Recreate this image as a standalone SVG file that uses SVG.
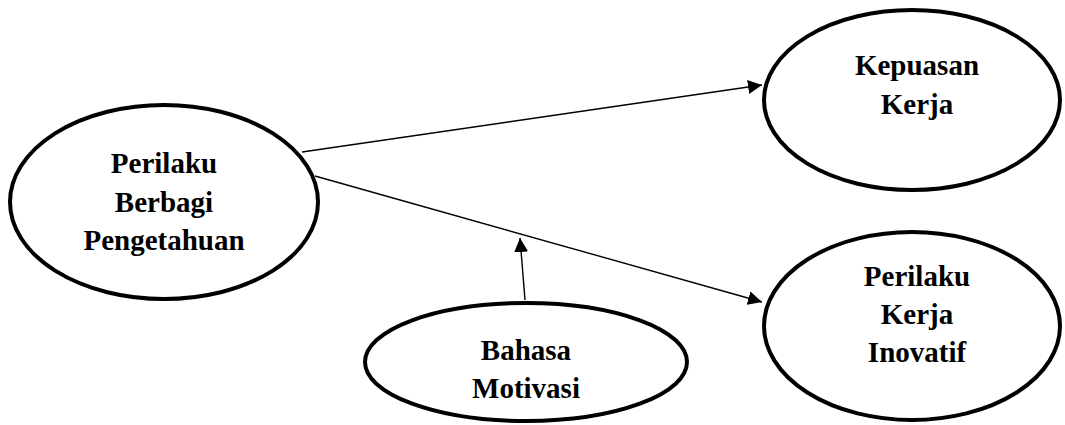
<svg xmlns="http://www.w3.org/2000/svg" width="1065" height="425" viewBox="0 0 1065 425">
<style>
.node{fill:#fff;stroke:#000;stroke-width:4}
.lbl{font-family:"Liberation Serif","Times New Roman",serif;font-weight:bold;font-size:29px;text-anchor:middle;fill:#000}
.edge{stroke:#000;stroke-width:1.4;fill:none}
</style>
<defs>
<marker id="ah" viewBox="0 0 14 14" refX="14" refY="7" markerWidth="14" markerHeight="14" markerUnits="userSpaceOnUse" orient="auto">
<path d="M0,0 L14,7 L0,14 z" fill="#000"/>
</marker>
</defs>
<rect width="1065" height="425" fill="#fff"/>
<g id="connectors">
<line class="edge" x1="302" y1="152" x2="762" y2="85" marker-end="url(#ah)"/>
<line class="edge" x1="315" y1="176" x2="762" y2="302" marker-end="url(#ah)"/>
<line class="edge" x1="525" y1="300" x2="520" y2="238" marker-end="url(#ah)"/>
</g>
<g id="perilaku-berbagi">
<ellipse class="node" cx="164" cy="202" rx="154" ry="97"/>
<text class="lbl" x="164" y="173">Perilaku</text>
<text class="lbl" x="164" y="212">Berbagi</text>
<text class="lbl" x="164" y="250">Pengetahuan</text>
</g>
<g id="kepuasan-kerja">
<ellipse class="node" cx="912" cy="100" rx="148" ry="90"/>
<text class="lbl" x="917" y="75">Kepuasan</text>
<text class="lbl" x="917" y="114">Kerja</text>
</g>
<g id="perilaku-kerja-inovatif">
<ellipse class="node" cx="912" cy="326" rx="148" ry="94"/>
<text class="lbl" x="917" y="286">Perilaku</text>
<text class="lbl" x="917" y="324">Kerja</text>
<text class="lbl" x="917" y="362">Inovatif</text>
</g>
<g id="bahasa-motivasi">
<ellipse class="node" cx="526" cy="362" rx="161" ry="59"/>
<text class="lbl" x="526" y="360">Bahasa</text>
<text class="lbl" x="526" y="398">Motivasi</text>
</g>
</svg>
